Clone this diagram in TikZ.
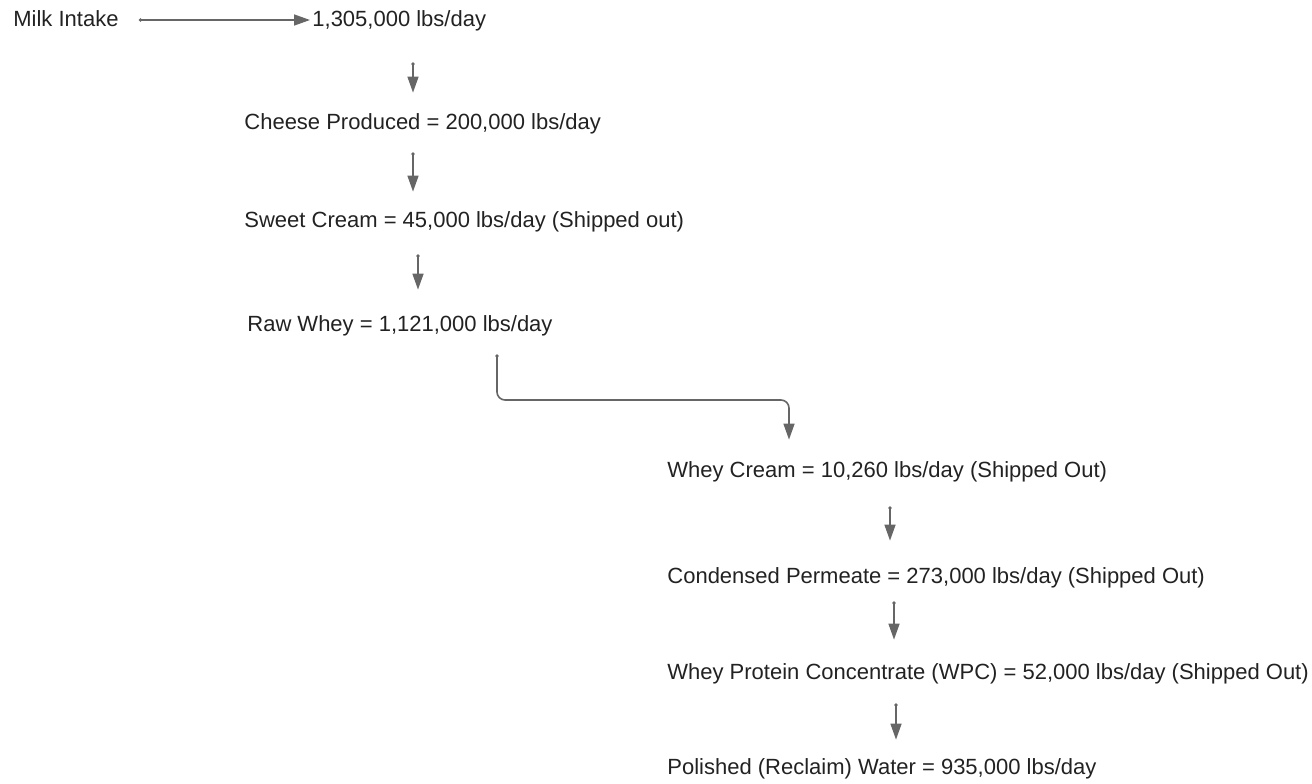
\documentclass[tikz,border=0pt]{standalone}
\usepackage{fontspec}
\setmainfont{Liberation Sans}
\usepackage{xcolor}
\usetikzlibrary{calc, positioning, arrows.meta}

\definecolor{linegray}{HTML}{666666}
\definecolor{textgray}{HTML}{222222}

\tikzset{
    label/.style={anchor=west, inner sep=0pt, text height=8pt, text depth=2pt, text=textgray},
    flow/.style={draw=linegray, line width=0.8pt, {Circle[length=1.6pt]}-{Triangle[length=8pt, width=5.5pt]}},
}

\begin{document}
\begin{tikzpicture}[x=0.5pt, y=-0.5pt, font=\fontsize{11pt}{13pt}\selectfont]
        \useasboundingbox (0,0) rectangle (1312,783);
        % left column
        \node[label] (milk) at (13,20) {Milk Intake};
        \node[label] (intake) at (312,20) {1,305,000 lbs/day};
        \node[label] (cheese) at (244,123) {Cheese Produced = 200,000 lbs/day};
        \node[label] (sweet) at (244,221) {Sweet Cream = 45,000 lbs/day (Shipped out)};
        \node[label] (raw) at (247,325) {Raw Whey = 1,121,000 lbs/day};
        % right column
        \node[label] (wcream) at (667,471) {Whey Cream = 10,260 lbs/day (Shipped Out)};
        \node[label] (perm) at (667,577) {Condensed Permeate = 273,000 lbs/day (Shipped Out)};
        \node[label] (wpc) at (667,673) {Whey Protein Concentrate (WPC) = 52,000 lbs/day (Shipped Out)};
        \node[label] (water) at (667,768) {Polished (Reclaim) Water = 935,000 lbs/day};

        \draw[flow, shorten <=10pt, shorten >=1pt] (milk.east) -- (intake.west);
        \draw[flow, shorten <=16pt, shorten >=10pt] (intake.south -| 413,0) -- (cheese.north -| 413,0);
        \draw[flow, shorten <=9.5pt, shorten >=9.5pt] (cheese.south -| 413,0) -- (sweet.north -| 413,0);
        \draw[flow, shorten <=11.5pt, shorten >=12.5pt] (sweet.south -| 418,0) -- (raw.north -| 418,0);
        \draw[flow, rounded corners=4pt, shorten <=9.5pt, shorten >=10.5pt] (raw.south -| 497,0) |- (789,400) -- (wcream.north -| 789,0);
        \draw[flow, shorten <=12.5pt, shorten >=13pt] (wcream.south -| 890,0) -- (perm.north -| 890,0);
        \draw[flow, shorten <=7pt, shorten >=11.5pt] (perm.south -| 894,0) -- (wpc.north -| 894,0);
        \draw[flow, shorten <=10pt, shorten >=9pt] (wpc.south -| 896,0) -- (water.north -| 896,0);
    \end{tikzpicture}
\end{document}
